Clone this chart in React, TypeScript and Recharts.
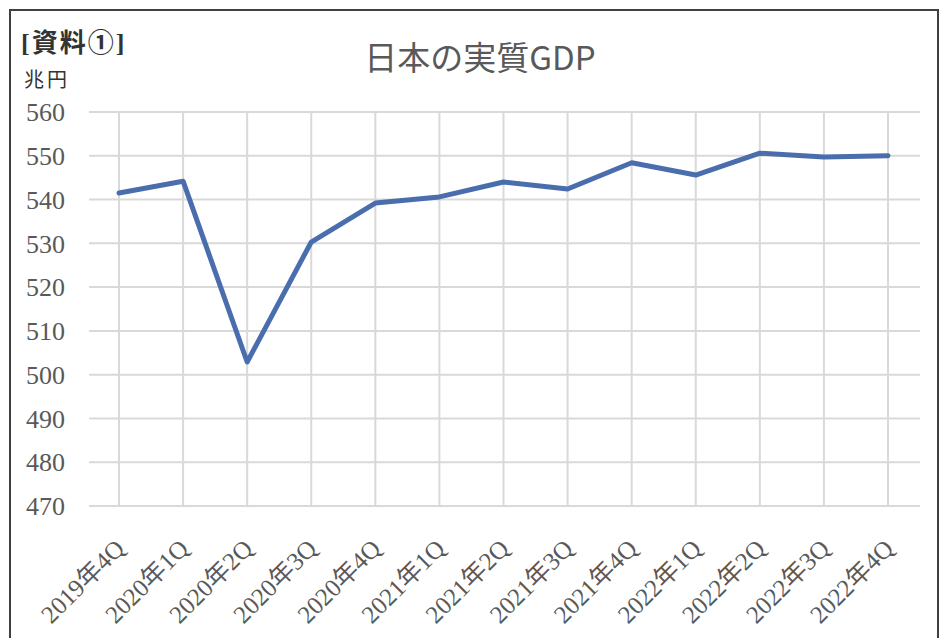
import { LineChart, Line, XAxis, YAxis, CartesianGrid } from "recharts";

// 四半期ラベル
const quarters = [
  "2019年4Q", "2020年1Q", "2020年2Q", "2020年3Q", "2020年4Q",
  "2021年1Q", "2021年2Q", "2021年3Q", "2021年4Q",
  "2022年1Q", "2022年2Q", "2022年3Q", "2022年4Q",
];

// 実質GDP（兆円）
const realGdp = [541.5, 544.2, 502.9, 530.3, 539.2, 540.6, 544.0, 542.4, 548.4, 545.6, 550.6, 549.7, 550.0];

const yTicks = [470, 480, 490, 500, 510, 520, 530, 540, 550, 560];

const data = quarters.map((q, i) => ({ q, gdp: realGdp[i] }));

const serif = '"Liberation Serif", "Noto Sans CJK JP", serif';
const gray = "#595959";

function QuarterTick(props: any) {
  const { x, y, payload } = props;
  const tx = x + 7;
  const ty = y + 42;
  return (
    <text
      x={tx}
      y={ty}
      textAnchor="end"
      fill={gray}
      fontSize={25}
      fontFamily={serif}
      transform={`rotate(-45 ${tx} ${ty})`}
    >
      {payload.value}
    </text>
  );
}

export default function App() {
  return (
    <div style={{ position: "absolute", left: 0, top: 0, width: 939, height: 638, background: "#fff", overflow: "hidden" }}>
      <div
        style={{
          position: "absolute",
          left: 9,
          top: 9,
          width: 926,
          height: 700,
          border: "2px solid #404040",
        }}
      />
      <div style={{ position: "absolute", left: 21, top: 22, fontFamily: serif, fontSize: 26, fontWeight: "bold", letterSpacing: 2, color: "#333" }}>
        [資料①]
      </div>
      <div style={{ position: "absolute", left: 24, top: 64, fontFamily: serif, fontSize: 20, letterSpacing: 3, color: "#333" }}>
        兆円
      </div>
      <div
        style={{
          position: "absolute",
          left: 0,
          width: 960,
          top: 32,
          textAlign: "center",
          fontFamily: '"Noto Sans CJK JP", sans-serif',
          fontSize: 33,
          color: gray,
        }}
      >
        日本の実質GDP
      </div>
      <LineChart
        width={939}
        height={638}
        data={data}
        margin={{ top: 112, right: 19, bottom: 0, left: 29 }}
        style={{ position: "absolute", left: 0, top: 0 }}
      >
        <CartesianGrid stroke="#d9d9d9" strokeWidth={2} syncWithTicks />
        <XAxis
          dataKey="q"
          interval={0}
          height={132}
          padding={{ left: 30, right: 32 }}
          axisLine={false}
          tickLine={false}
          tickSize={0}
          tick={<QuarterTick />}
        />
        <YAxis
          domain={[470, 560]}
          ticks={yTicks}
          width={60}
          axisLine={false}
          tickLine={false}
          tickSize={0}
          tickMargin={24}
          tick={{ fill: gray, fontSize: 26, fontFamily: serif }}
        />
        <Line
          dataKey="gdp"
          stroke="#4a6ead"
          strokeWidth={5}
          dot={false}
          strokeLinejoin="round"
          strokeLinecap="round"
          isAnimationActive={false}
        />
      </LineChart>
    </div>
  );
}
